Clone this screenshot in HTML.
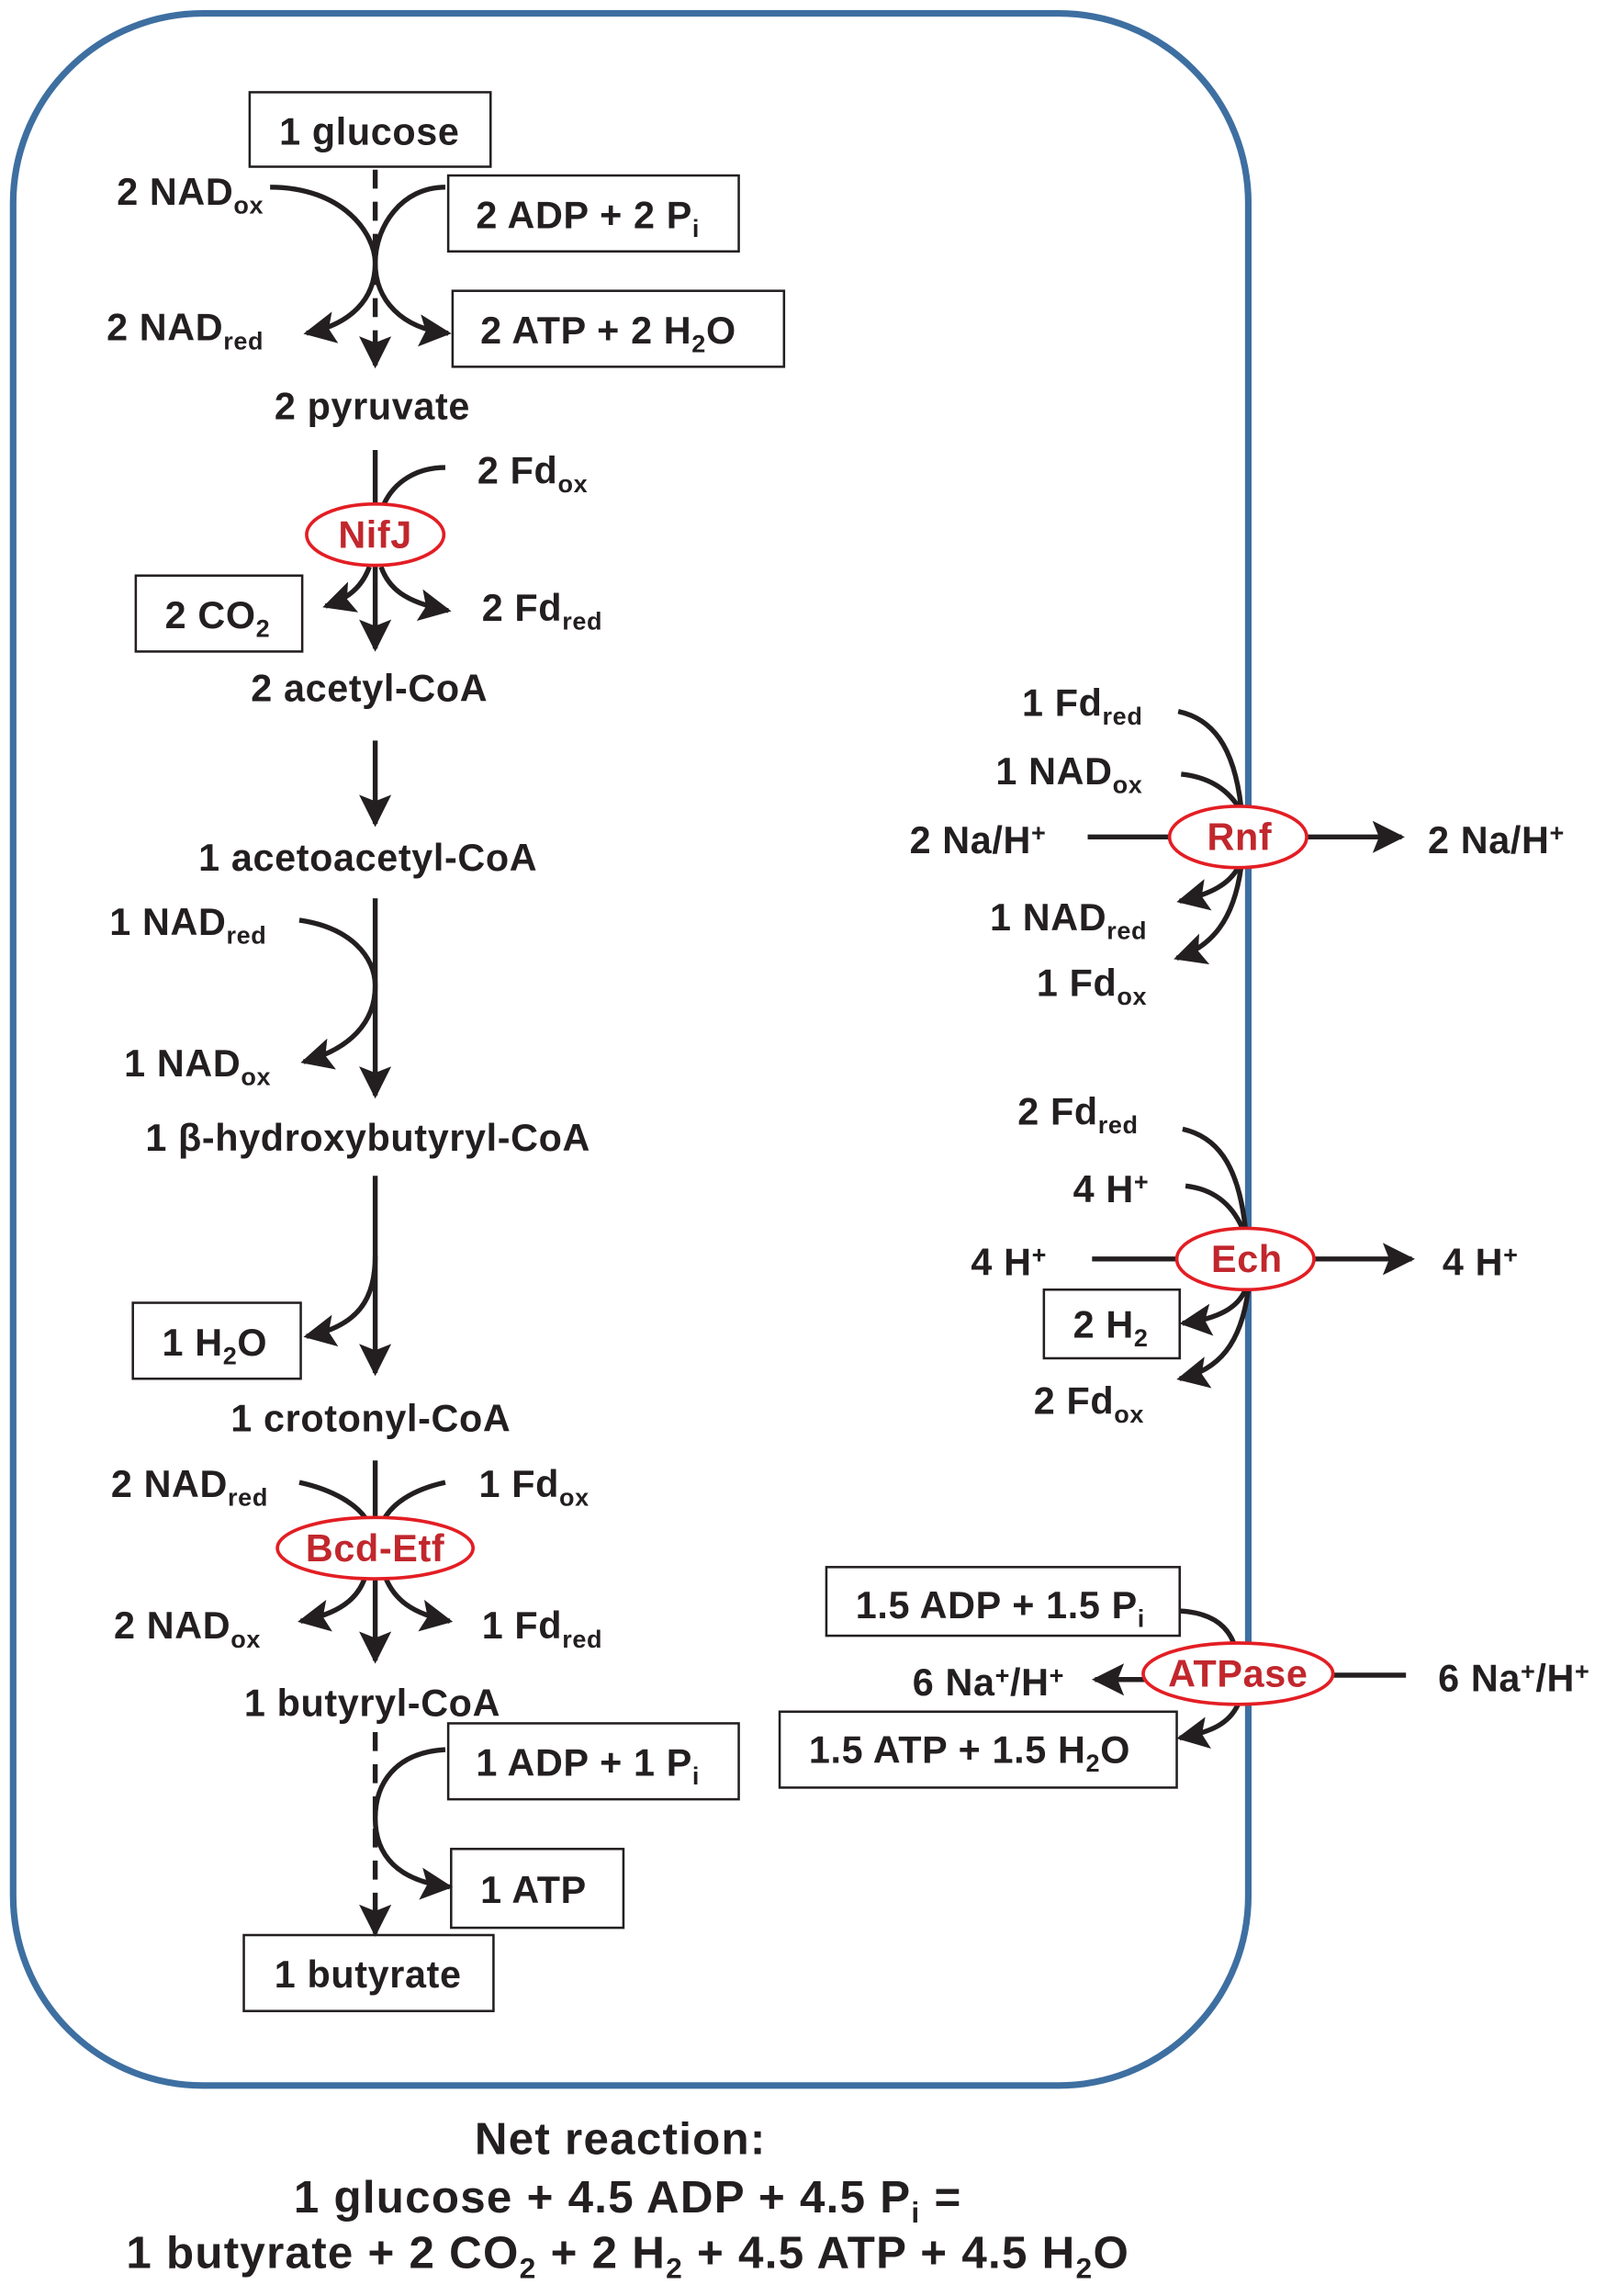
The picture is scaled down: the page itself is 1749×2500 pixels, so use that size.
<!DOCTYPE html>
<html><head><meta charset="utf-8"><style>
html,body{margin:0;padding:0;background:#fff}
svg{display:block}
text{font-family:"Liberation Sans",Arial,sans-serif;font-weight:bold;font-size:26px;letter-spacing:0.4px;fill:#231f20}
.e{fill:#c1272d;font-size:26px}
.s{font-size:17px}
.b{fill:none;stroke:#231f20;stroke-width:1.6}
.l{fill:none;stroke:#231f20;stroke-width:3.4}
.d{fill:none;stroke:#231f20;stroke-width:3.4;stroke-dasharray:13,9}
.o{fill:#fff;stroke:#e31e24;stroke-width:2.3}
</style></head><body>
<svg width="1749" height="2500" viewBox="0 0 1100 1572" xmlns="http://www.w3.org/2000/svg">
<defs>
<marker id="m" viewBox="0 0 10 10" refX="9" refY="5" markerWidth="6.5" markerHeight="6.5" orient="auto"><path d="M0,0 L10,5 L0,10 L2,5 Z" fill="#231f20"/></marker></defs>
<rect x="9" y="9" width="846" height="1419" rx="130" fill="none" stroke="#3e6fa1" stroke-width="4.5"/>

<!-- glycolysis -->
<rect class="b" x="171" y="63" width="165" height="51" fill="#fff"/>
<text x="253" y="99" text-anchor="middle">1 glucose</text>
<line class="d" x1="257" y1="116" x2="257" y2="250" marker-end="url(#m)"/>
<path class="l" d="M185,128 C235,128 257,160 257,180 C257,205 240,222 210,228" marker-end="url(#m)"/>
<path class="l" d="M305,128 C275,128 257,155 257,180 C257,205 275,225 307,228" marker-end="url(#m)"/>
<text x="80" y="140">2 NAD<tspan class="s" dy="6">ox</tspan></text>
<rect class="b" x="307" y="120" width="199" height="52"/>
<text x="326" y="156">2 ADP + 2 P<tspan class="s" dy="6">i</tspan></text>
<text x="73" y="233">2 NAD<tspan class="s" dy="6">red</tspan></text>
<rect class="b" x="310" y="199" width="227" height="52"/>
<text x="329" y="235">2 ATP + 2 H<tspan class="s" dy="6">2</tspan><tspan dy="-6">O</tspan></text>
<text x="255" y="287" text-anchor="middle">2 pyruvate</text>

<line class="l" x1="257" y1="308" x2="257" y2="444" marker-end="url(#m)"/>
<path class="l" d="M305,320 C285,320 270,330 263,345"/>
<text x="327" y="331">2 Fd<tspan class="s" dy="6">ox</tspan></text>
<path class="l" d="M253,388 C248,402 238,410 223,415" marker-end="url(#m)"/>
<path class="l" d="M261,388 C266,402 276,412 307,418" marker-end="url(#m)"/>
<ellipse class="o" cx="257" cy="366" rx="47" ry="21"/>
<text class="e" x="257" y="375" text-anchor="middle">NifJ</text>
<rect class="b" x="93" y="394" width="114" height="52"/>
<text x="113" y="430">2 CO<tspan class="s" dy="6">2</tspan></text>
<text x="330" y="425">2 Fd<tspan class="s" dy="6">red</tspan></text>
<text x="253" y="480" text-anchor="middle">2 acetyl-CoA</text>
<line class="l" x1="257" y1="507" x2="257" y2="564" marker-end="url(#m)"/>
<text x="252" y="596" text-anchor="middle">1 acetoacetyl-CoA</text>

<line class="l" x1="257" y1="615" x2="257" y2="750" marker-end="url(#m)"/>
<path class="l" d="M205,630 C240,635 257,655 257,675 C257,700 240,718 208,727" marker-end="url(#m)"/>
<text x="75" y="640">1 NAD<tspan class="s" dy="6">red</tspan></text>
<text x="85" y="737">1 NAD<tspan class="s" dy="6">ox</tspan></text>
<text x="252" y="788" text-anchor="middle">1 β-hydroxybutyryl-CoA</text>

<line class="l" x1="257" y1="805" x2="257" y2="940" marker-end="url(#m)"/>
<path class="l" d="M257,860 C257,890 245,908 210,915" marker-end="url(#m)"/>
<rect class="b" x="91" y="892" width="115" height="52"/>
<text x="111" y="928">1 H<tspan class="s" dy="6">2</tspan><tspan dy="-6">O</tspan></text>
<text x="254" y="980" text-anchor="middle">1 crotonyl-CoA</text>

<line class="l" x1="257" y1="1000" x2="257" y2="1137" marker-end="url(#m)"/>
<path class="l" d="M205,1015 C228,1020 245,1030 252,1042"/>
<path class="l" d="M305,1015 C282,1020 268,1030 262,1042"/>
<path class="l" d="M250,1080 C245,1095 232,1105 206,1110" marker-end="url(#m)"/>
<path class="l" d="M264,1080 C270,1095 282,1105 308,1110" marker-end="url(#m)"/>
<ellipse class="o" cx="257" cy="1060" rx="67" ry="21"/>
<text class="e" x="257" y="1069" text-anchor="middle">Bcd-Etf</text>
<text x="76" y="1025">2 NAD<tspan class="s" dy="6">red</tspan></text>
<text x="328" y="1025">1 Fd<tspan class="s" dy="6">ox</tspan></text>
<text x="78" y="1122">2 NAD<tspan class="s" dy="6">ox</tspan></text>
<text x="330" y="1122">1 Fd<tspan class="s" dy="6">red</tspan></text>
<text x="255" y="1175" text-anchor="middle">1 butyryl-CoA</text>

<line class="d" x1="257" y1="1186" x2="257" y2="1324" marker-end="url(#m)"/>
<path class="l" d="M305,1198 C270,1200 257,1222 257,1245 C257,1270 272,1288 308,1292" marker-end="url(#m)"/>
<rect class="b" x="307" y="1180" width="199" height="52"/>
<text x="326" y="1216">1 ADP + 1 P<tspan class="s" dy="6">i</tspan></text>
<rect class="b" x="309" y="1266" width="118" height="54"/>
<text x="329" y="1303">1 ATP</text>
<rect class="b" x="167" y="1325" width="171" height="52" fill="#fff"/>
<text x="252" y="1361" text-anchor="middle">1 butyrate</text>

<!-- Rnf -->
<path class="l" d="M807,487 C830,492 845,510 850,552"/>
<path class="l" d="M809,530 C828,532 840,540 848,552"/>
<path class="l" d="M848,594 C842,605 830,612 808,617" marker-end="url(#m)"/>
<path class="l" d="M850,594 C845,630 830,648 806,656" marker-end="url(#m)"/>
<line class="l" x1="745" y1="573" x2="802" y2="573"/>
<line class="l" x1="895" y1="573" x2="960" y2="573" marker-end="url(#m)"/>
<ellipse class="o" cx="848" cy="573" rx="47" ry="21"/>
<text class="e" x="849" y="582" text-anchor="middle">Rnf</text>
<text x="700" y="490">1 Fd<tspan class="s" dy="6">red</tspan></text>
<text x="682" y="537">1 NAD<tspan class="s" dy="6">ox</tspan></text>
<text x="623" y="584">2 Na/H<tspan class="s" dy="-8">+</tspan></text>
<text x="978" y="584">2 Na/H<tspan class="s" dy="-8">+</tspan></text>
<text x="678" y="637">1 NAD<tspan class="s" dy="6">red</tspan></text>
<text x="710" y="682">1 Fd<tspan class="s" dy="6">ox</tspan></text>

<!-- Ech -->
<path class="l" d="M810,773 C832,778 848,795 853,841"/>
<path class="l" d="M812,812 C830,814 843,823 851,841"/>
<path class="l" d="M853,883 C848,895 835,903 810,906" marker-end="url(#m)"/>
<path class="l" d="M855,883 C850,920 835,938 808,944" marker-end="url(#m)"/>
<line class="l" x1="748" y1="862" x2="806" y2="862"/>
<line class="l" x1="900" y1="862" x2="967" y2="862" marker-end="url(#m)"/>
<ellipse class="o" cx="853" cy="862" rx="47" ry="21"/>
<text class="e" x="854" y="871" text-anchor="middle">Ech</text>
<text x="697" y="770">2 Fd<tspan class="s" dy="6">red</tspan></text>
<text x="735" y="823">4 H<tspan class="s" dy="-8">+</tspan></text>
<text x="665" y="873">4 H<tspan class="s" dy="-8">+</tspan></text>
<text x="988" y="873">4 H<tspan class="s" dy="-8">+</tspan></text>
<rect class="b" x="715" y="883" width="93" height="47"/>
<text x="735" y="916">2 H<tspan class="s" dy="6">2</tspan></text>
<text x="708" y="968">2 Fd<tspan class="s" dy="6">ox</tspan></text>

<!-- ATPase -->
<path class="l" d="M808,1103 C828,1104 840,1112 845,1125"/>
<path class="l" d="M848,1167 C842,1180 830,1186 808,1190" marker-end="url(#m)"/>
<line class="l" x1="784" y1="1150" x2="750" y2="1150" marker-end="url(#m)"/>
<line class="l" x1="912" y1="1147" x2="963" y2="1147"/>
<ellipse class="o" cx="848" cy="1146" rx="65" ry="21"/>
<text class="e" x="848" y="1155" text-anchor="middle">ATPase</text>
<rect class="b" x="566" y="1073" width="242" height="47"/>
<text x="586" y="1108">1.5 ADP + 1.5 P<tspan class="s" dy="6">i</tspan></text>
<text x="625" y="1161">6 Na<tspan class="s" dy="-8">+</tspan><tspan dy="8">/H</tspan><tspan class="s" dy="-8">+</tspan></text>
<text x="985" y="1158">6 Na<tspan class="s" dy="-8">+</tspan><tspan dy="8">/H</tspan><tspan class="s" dy="-8">+</tspan></text>
<rect class="b" x="534" y="1172" width="272" height="52"/>
<text x="554" y="1207">1.5 ATP + 1.5 H<tspan class="s" dy="6">2</tspan><tspan dy="-6">O</tspan></text>

<!-- net -->
<text x="425" y="1475" text-anchor="middle" style="font-size:31px;letter-spacing:0.8px">Net reaction:</text>
<text x="430" y="1515" text-anchor="middle" style="font-size:31px;letter-spacing:0.8px">1 glucose + 4.5 ADP + 4.5 P<tspan style="font-size:20px" dy="7">i</tspan><tspan dy="-7"> =</tspan></text>
<text x="430" y="1553" text-anchor="middle" style="font-size:31px;letter-spacing:0.8px">1 butyrate + 2 CO<tspan style="font-size:20px" dy="7">2</tspan><tspan dy="-7"> + 2 H</tspan><tspan style="font-size:20px" dy="7">2</tspan><tspan dy="-7"> + 4.5 ATP + 4.5 H</tspan><tspan style="font-size:20px" dy="7">2</tspan><tspan dy="-7">O</tspan></text>
</svg>
</body></html>
